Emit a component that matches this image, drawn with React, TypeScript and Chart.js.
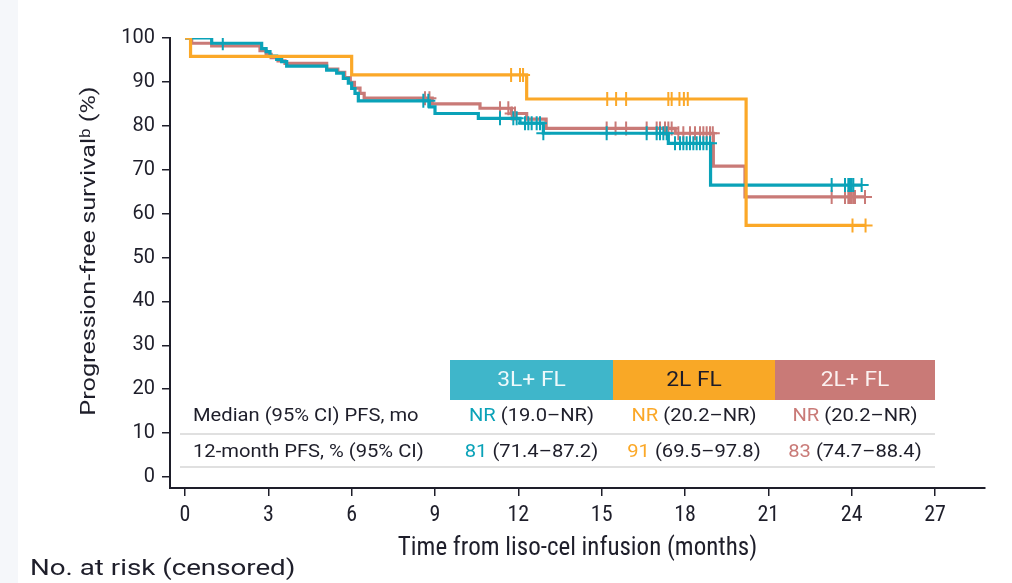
import React, { useEffect, useRef } from 'react';
import { Chart, registerables } from 'chart.js';
Chart.register(...registerables);

// ---------- data ----------
const xTicks = [0, 3, 6, 9, 12, 15, 18, 21, 24, 27];
const yTicks = [0, 10, 20, 30, 40, 50, 60, 70, 80, 90, 100];

// 3L+ FL (teal)
const time3L = [0, 0.96, 2.76, 2.92, 3.06, 3.3, 3.48, 3.66, 5.1, 5.46, 5.7, 5.88, 6.0, 6.12, 6.24, 8.8, 9.0, 10.56, 12.06, 12.9, 17.4, 18.92, 24.36];
const surv3L = [100, 98.8, 97.6, 96.9, 95.9, 95.1, 94.6, 93.6, 92.7, 92.0, 90.8, 89.7, 88.5, 87.4, 85.7, 84.3, 82.8, 81.7, 80.6, 78.3, 76.0, 66.5, 66.5];
const cens3L = [1.36, 8.58, 8.76, 11.34, 11.82, 11.94, 12.24, 12.36, 12.48, 12.66, 12.78, 12.9, 15.18, 16.62, 16.98, 17.1, 17.22, 17.34, 17.64, 17.82, 17.94, 18.06, 18.18, 18.3, 18.42, 18.54, 18.66, 18.78, 18.9, 23.28, 23.76, 23.88, 23.94, 24.0, 24.06, 24.36];

// 2L FL (orange)
const time2L = [0, 0.2, 6.0, 12.3, 20.2, 24.5];
const surv2L = [100, 95.8, 91.6, 86.1, 57.3, 57.3];
const cens2L = [11.74, 12.06, 12.17, 15.2, 15.52, 15.88, 17.4, 17.52, 17.8, 17.96, 18.1, 24.03, 24.5];

// 2L+ FL (rose)
const time2Lp = [0, 0.24, 0.96, 2.7, 2.92, 3.1, 3.35, 3.6, 5.1, 5.5, 5.75, 5.95, 6.1, 6.3, 6.45, 8.9, 10.62, 11.75, 12.3, 13.0, 17.65, 19.02, 20.16, 24.48];
const surv2Lp = [100, 98.8, 98.2, 97.1, 96.3, 95.5, 94.8, 94.2, 92.9, 92.2, 91.0, 89.9, 88.6, 87.4, 86.3, 85.0, 84.0, 82.8, 81.5, 79.4, 78.3, 70.8, 63.8, 63.8];
const cens2Lp = [8.64, 8.8, 11.34, 11.64, 11.76, 11.88, 15.18, 15.5, 15.88, 16.62, 16.98, 17.1, 17.28, 17.4, 17.52, 17.76, 17.94, 18.18, 18.36, 18.54, 18.66, 18.78, 18.9, 19.0, 23.28, 23.76, 23.88, 23.94, 24.0, 24.06, 24.12, 24.48];

// table
const groupNames = ['3L+ FL', '2L FL', '2L+ FL'];
const rowLabels = ['Median (95% CI) PFS, mo', '12-month PFS, % (95% CI)'];
const medianEst = ['NR', 'NR', 'NR'];
const medianCI = ['(19.0–NR)', '(20.2–NR)', '(20.2–NR)'];
const pfs12Est = ['81', '91', '83'];
const pfs12CI = ['(71.4–87.2)', '(69.5–97.8)', '(74.7–88.4)'];
const yTitle = 'Progression-free survivalᵇ (%)';
const xTitle = 'Time from liso-cel infusion (months)';
const atRiskLabel = 'No. at risk (censored)';

// ---------- style ----------
const TEAL = '#0aa2b8';
const ORANGE = '#fba828';
const ROSE = '#c97a77';
const BOX = ['#3fb6ca', '#f9a826', '#c97a77'];
const BOX_TEXT = ['#eef9fb', '#1c1c2a', '#fbf1f0'];
const SER = [TEAL, ORANGE, ROSE];
const FONT = 'Roboto, "Liberation Sans", sans-serif';
const NARROW = '"Liberation Sans Narrow", "Roboto Condensed", Roboto, sans-serif';
const DARK = '#1e1e2a';

const pts = (t: number[], s: number[]) => t.map((x, i) => ({ x, y: s[i] }));
const survAt = (t: number[], s: number[], x: number) => {
  let v = s[0];
  for (let i = 0; i < t.length; i++) if (t[i] <= x) v = s[i];
  return v;
};
const censPts = (c: number[], t: number[], s: number[]) => c.map((x) => ({ x, y: survAt(t, s, x) }));

// draws text horizontally stretched by sx around its anchor
const drawText = (ctx: any, text: string, x: number, y: number, sx: number, align: 'left' | 'center') => {
  ctx.save();
  ctx.translate(x, y);
  ctx.scale(sx, 1);
  ctx.textAlign = align;
  ctx.fillText(text, 0, 0);
  ctx.restore();
};

const tablePlugin = {
  id: 'tablePlugin',
  beforeDraw(chart: any) {
    const ctx = chart.ctx;
    ctx.save();
    ctx.fillStyle = '#ffffff';
    ctx.fillRect(0, 0, chart.width, chart.height);
    ctx.fillStyle = '#f5f7fa';
    ctx.fillRect(0, 0, 18, chart.height);
    ctx.restore();
  },
  afterDraw(chart: any) {
    const ctx = chart.ctx;
    ctx.save();
    ctx.textBaseline = 'middle';
    const edges = [450, 613, 775, 935];
    const SX = 1.12;
    // header boxes
    for (let i = 0; i < 3; i++) {
      ctx.fillStyle = BOX[i];
      ctx.fillRect(edges[i], 360, edges[i + 1] - edges[i], 40);
      ctx.fillStyle = BOX_TEXT[i];
      ctx.font = `20px ${FONT}`;
      drawText(ctx, groupNames[i], (edges[i] + edges[i + 1]) / 2, 381, 1.14, 'center');
    }
    // separator lines
    ctx.strokeStyle = '#e0e0e0';
    ctx.lineWidth = 2;
    [434, 467].forEach((y) => {
      ctx.beginPath();
      ctx.moveTo(180, y);
      ctx.lineTo(935, y);
      ctx.stroke();
    });
    // row labels
    ctx.font = `18px ${FONT}`;
    ctx.fillStyle = DARK;
    const rowY = [416, 452];
    rowLabels.forEach((l, i) => drawText(ctx, l, 193, rowY[i], SX, 'left'));
    // values
    const rows = [
      [medianEst, medianCI],
      [pfs12Est, pfs12CI],
    ];
    rows.forEach(([est, ci], r) => {
      for (let i = 0; i < 3; i++) {
        const a = est[i];
        const b = ' ' + ci[i];
        const wa = ctx.measureText(a).width * SX;
        const wb = ctx.measureText(b).width * SX;
        const cx = (edges[i] + edges[i + 1]) / 2;
        const x0 = cx - (wa + wb) / 2;
        ctx.fillStyle = SER[i];
        drawText(ctx, a, x0, rowY[r], SX, 'left');
        ctx.fillStyle = DARK;
        drawText(ctx, b, x0 + wa, rowY[r], SX, 'left');
      }
    });
    // y-axis title
    ctx.save();
    ctx.font = `21px ${FONT}`;
    ctx.fillStyle = DARK;
    ctx.translate(90, 251);
    ctx.rotate(-Math.PI / 2);
    ctx.scale(1.2, 1);
    ctx.textAlign = 'center';
    ctx.fillText(yTitle, 0, 0);
    ctx.restore();
    // at-risk label
    ctx.font = `22px ${FONT}`;
    ctx.fillStyle = DARK;
    drawText(ctx, atRiskLabel, 30, 569, 1.26, 'left');
    ctx.restore();
  },
};

export default function App() {
  const ref = useRef<HTMLCanvasElement>(null);
  useEffect(() => {
    if (!ref.current) return;
    const lineDs = (t: number[], s: number[], color: string) => ({
      data: pts(t, s),
      showLine: true,
      stepped: true,
      borderColor: color,
      borderWidth: 3.2,
      pointRadius: 0,
      fill: false,
    });
    const censDs = (c: number[], t: number[], s: number[], color: string) => ({
      data: censPts(c, t, s),
      showLine: false,
      pointStyle: 'cross',
      pointRadius: 7,
      pointBorderWidth: 2,
      borderColor: color,
      pointBorderColor: color,
      backgroundColor: color,
    });
    const chart = new Chart(ref.current, {
      type: 'scatter',
      data: {
        datasets: [
          censDs(cens2L, time2L, surv2L, ORANGE),
          lineDs(time2L, surv2L, ORANGE),
          censDs(cens3L, time3L, surv3L, TEAL),
          lineDs(time3L, surv3L, TEAL),
          censDs(cens2Lp, time2Lp, surv2Lp, ROSE),
          lineDs(time2Lp, surv2Lp, ROSE),
        ] as any,
      },
      options: {
        animation: false,
        responsive: true,
        maintainAspectRatio: false,
        layout: { padding: { left: 70, right: 27, top: 38, bottom: 0 } },
        plugins: { legend: { display: false }, tooltip: { enabled: false } },
        scales: {
          x: {
            type: 'linear',
            min: -0.54,
            max: 28.8,
            afterBuildTicks: (axis: any) => {
              axis.ticks = xTicks.map((v) => ({ value: v }));
            },
            afterFit: (axis: any) => {
              axis.height = 95;
            },
            grid: { display: true, drawOnChartArea: false, drawTicks: true, tickLength: 8, color: DARK, lineWidth: 1.5 },
            border: { display: true, color: DARK, width: 2 },
            ticks: { color: DARK, font: { family: NARROW, size: 22 }, padding: 6, maxRotation: 0 },
            title: {
              display: true,
              text: xTitle,
              color: DARK,
              font: { family: NARROW, size: 25 },
              padding: { top: 0, bottom: 19 },
            },
          },
          y: {
            type: 'linear',
            min: -2.5,
            max: 100,
            afterBuildTicks: (axis: any) => {
              axis.ticks = yTicks.map((v) => ({ value: v }));
            },
            afterFit: (axis: any) => {
              axis.width = 100;
            },
            grid: { display: true, drawOnChartArea: false, drawTicks: true, tickLength: 8, color: DARK, lineWidth: 1.5 },
            border: { display: true, color: DARK, width: 2 },
            ticks: { color: DARK, font: { family: FONT, size: 20 }, padding: 7 },
          },
        },
      },
      plugins: [tablePlugin],
    });
    return () => chart.destroy();
  }, []);
  return (
    <div style={{ position: 'fixed', left: 0, top: 0, width: 1012, height: 583 }}>
      <canvas ref={ref} />
    </div>
  );
}
